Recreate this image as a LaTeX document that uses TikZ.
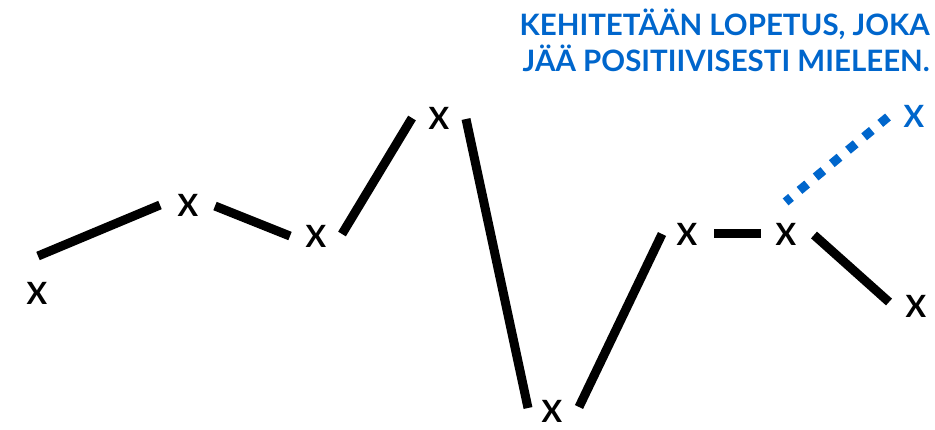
\documentclass[tikz,border=0pt]{standalone}
\usepackage{fontspec}
\setmainfont{Lato}
\definecolor{lopetus}{HTML}{0066CC}
\tikzset{>=latex}
\tikzset{
  merkki/.style={font=\bfseries\fontsize{23}{27}\selectfont,inner sep=0pt},
  otsikko/.style={font=\bfseries\fontsize{22.1}{27}\selectfont,text=lopetus,inner sep=0pt,anchor=base east},
  viiva/.style={line width=6.75pt},
  jatko/.style={lopetus,line width=6.75pt,dash pattern=on 7.5pt off 8.25pt,dash phase=2.25pt}
}

\begin{document}
\begin{tikzpicture}[x=0.75pt,y=-0.75pt]
  \useasboundingbox (0,0) rectangle (935,429);
  % 
  \node[otsikko] (h1) at (930,35) {KEHITETÄÄN LOPETUS, JOKA};
  \node[otsikko] (h2) at (930,71) {JÄÄ POSITIIVISESTI MIELEEN.};
  % 
  \node[merkki] (x1) at (37,293) {X};
  \node[merkki] (x2) at (188,205) {X};
  \node[merkki] (x3) at (316,236) {X};
  \node[merkki] (x4) at (439,118) {X};
  \node[merkki] (x5) at (552,411) {X};
  \node[merkki] (x6) at (687,234) {X};
  \node[merkki] (x7) at (786,234) {X};
  \node[merkki] (x8) at (916,306) {X};
  \node[merkki,text=lopetus] (x9) at (914,116) {X};
  % 
  \coordinate (a1) at (38,256);   \coordinate (b1) at (160,205);
  \coordinate (a2) at (215,206);  \coordinate (b2) at (290,236);
  \coordinate (a3) at (342,234);  \coordinate (b3) at (412,118);
  \coordinate (a4) at (466,119);  \coordinate (b4) at (528,408);
  \coordinate (a5) at (579,407);  \coordinate (b5) at (662,234);
  \coordinate (a6) at (714,233);  \coordinate (b6) at (761,233);
  \coordinate (a7) at (814,235);  \coordinate (b7) at (889,302);
  \coordinate (a8) at (785.6,201.9); \coordinate (b8) at (888,117);
  % 
  \foreach \i in {1,...,7}
    \draw[viiva] (a\i) -- (b\i);
  \draw[jatko] (a8) -- (b8);
\end{tikzpicture}
\end{document}
